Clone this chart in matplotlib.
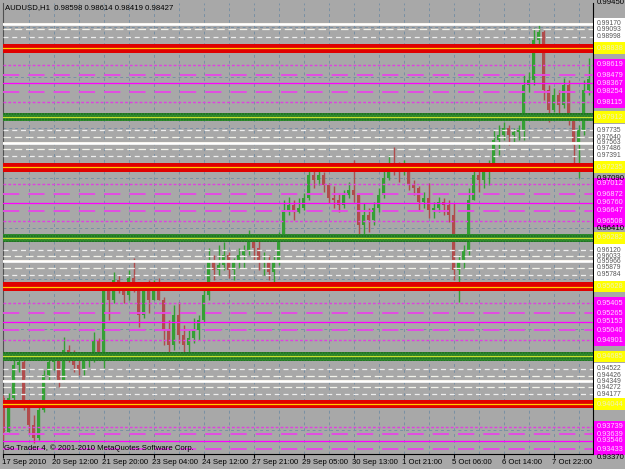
import matplotlib
matplotlib.use("Agg")
import matplotlib.pyplot as plt
import matplotlib.transforms as mtransforms
from matplotlib.patches import Rectangle

# ---------------- data ----------------
title = "AUDUSD,H1  0.98598 0.98614 0.98419 0.98427"
footer = "Go Trader 4, \u00a9 2001-2010 MetaQuotes Software Corp."

time_labels = ["17 Sep 2010", "20 Sep 12:00", "21 Sep 20:00", "23 Sep 04:00",
               "24 Sep 12:00", "27 Sep 21:00", "29 Sep 05:00", "30 Sep 13:00",
               "1 Oct 21:00", "5 Oct 06:00", "6 Oct 14:00", "7 Oct 22:00"]

first_open = 0.9413
closes = [0.9367, 0.9413, 0.9457, 0.9461, 0.9403, 0.9376, 0.9359, 0.9396, 0.9444, 0.9461,
          0.9464, 0.9437, 0.9477, 0.9471, 0.9457, 0.9450, 0.9464, 0.9466, 0.9491, 0.9471,
          0.9558, 0.9545, 0.9572, 0.9561, 0.9551, 0.9574, 0.9565, 0.9524, 0.9558, 0.9545,
          0.9565, 0.9545, 0.9504, 0.9484, 0.9524, 0.9497, 0.9484, 0.9493, 0.9504, 0.9518,
          0.9551, 0.9599, 0.9585, 0.9592, 0.9605, 0.9585, 0.9596, 0.9605, 0.9612, 0.9628,
          0.9615, 0.9596, 0.9599, 0.9582, 0.9596, 0.9626, 0.9666, 0.9673, 0.9663, 0.9669,
          0.9682, 0.9713, 0.9706, 0.9713, 0.9700, 0.9682, 0.9679, 0.9673, 0.9686, 0.9693,
          0.9686, 0.9646, 0.9659, 0.9652, 0.9669, 0.9686, 0.9709, 0.9727, 0.9723, 0.9717,
          0.9727, 0.9700, 0.9696, 0.9677, 0.9682, 0.9666, 0.9669, 0.9677, 0.9673, 0.9659,
          0.9585, 0.9596, 0.9612, 0.9679, 0.9713, 0.9706, 0.9717, 0.9720, 0.9760, 0.9767,
          0.9777, 0.9767, 0.9771, 0.9774, 0.9834, 0.9841, 0.9895, 0.9906, 0.9828, 0.9801,
          0.9821, 0.9808, 0.9834, 0.9790, 0.9754, 0.9774, 0.9828, 0.98427]
highs = [0.9417, 0.9419, 0.9464, 0.9471, 0.9466, 0.9410, 0.9390, 0.9403, 0.9450, 0.9471,
         0.9475, 0.9466, 0.9495, 0.9484, 0.9477, 0.9464, 0.9471, 0.9475, 0.9502, 0.9493,
         0.9568, 0.9561, 0.9582, 0.9578, 0.9568, 0.9585, 0.9601, 0.9568, 0.9565, 0.9572,
         0.9572, 0.9574, 0.9549, 0.9518, 0.9538, 0.9542, 0.9511, 0.9504, 0.9520, 0.9524,
         0.9565, 0.9615, 0.9605, 0.9619, 0.9623, 0.9609, 0.9601, 0.9615, 0.9619, 0.9639,
         0.9632, 0.9626, 0.9609, 0.9605, 0.9605, 0.9636, 0.9679, 0.9683, 0.9679, 0.9682,
         0.9689, 0.9729, 0.9723, 0.9723, 0.9717, 0.9702, 0.9698, 0.9689, 0.9693, 0.9704,
         0.9733, 0.9686, 0.9675, 0.9669, 0.9677, 0.9696, 0.9720, 0.9740, 0.9751, 0.9731,
         0.9733, 0.9727, 0.9706, 0.9698, 0.9690, 0.9702, 0.9677, 0.9683, 0.9682, 0.9679,
         0.9675, 0.9605, 0.9619, 0.9696, 0.9723, 0.9720, 0.9723, 0.9733, 0.9774, 0.9781,
         0.9785, 0.9781, 0.9777, 0.9781, 0.9848, 0.9852, 0.9911, 0.9917, 0.9909, 0.9834,
         0.9830, 0.9828, 0.9844, 0.9841, 0.9794, 0.9781, 0.9841, 0.9871]
lows = [0.9356, 0.9367, 0.9410, 0.9448, 0.9396, 0.9365, 0.9352, 0.9356, 0.9394, 0.9437,
        0.9450, 0.9427, 0.9434, 0.9461, 0.9448, 0.9444, 0.9444, 0.9454, 0.9461, 0.9464,
        0.9453, 0.9518, 0.9541, 0.9554, 0.9541, 0.9545, 0.9555, 0.9508, 0.9520, 0.9527,
        0.9545, 0.9545, 0.9484, 0.9473, 0.9477, 0.9487, 0.9471, 0.9466, 0.9487, 0.9491,
        0.9515, 0.9545, 0.9572, 0.9578, 0.9585, 0.9574, 0.9572, 0.9588, 0.9588, 0.9605,
        0.9596, 0.9585, 0.9578, 0.9572, 0.9559, 0.9592, 0.9626, 0.9659, 0.9652, 0.9662,
        0.9666, 0.9679, 0.9696, 0.9700, 0.9690, 0.9675, 0.9669, 0.9663, 0.9669, 0.9682,
        0.9677, 0.9626, 0.9632, 0.9636, 0.9646, 0.9663, 0.9682, 0.9706, 0.9713, 0.9704,
        0.9713, 0.9693, 0.9686, 0.9666, 0.9669, 0.9655, 0.9655, 0.9663, 0.9659, 0.9650,
        0.9572, 0.9542, 0.9588, 0.9605, 0.9679, 0.9690, 0.9696, 0.9700, 0.9720, 0.9740,
        0.9760, 0.9754, 0.9758, 0.9760, 0.9760, 0.9825, 0.9834, 0.9882, 0.9814, 0.9785,
        0.9798, 0.9794, 0.9803, 0.9781, 0.9727, 0.9709, 0.9767, 0.9821]

price_top = 0.99450
price_bottom = 0.93370
axis_labels = [0.99450, 0.97090, 0.96410, 0.93370]
grid_prices = [0.99130, 0.98450, 0.97770, 0.97090, 0.96410, 0.95730, 0.95050, 0.94370, 0.93690]

red_bands = [0.98838, 0.97235, 0.95628, 0.94044]
green_bands = [0.97912, 0.96282, 0.94685]

white_solid = [0.99170, 0.97563, 0.95966, 0.94349]
white_inner = [0.99093, 0.97640, 0.97486, 0.96033, 0.95879, 0.94426, 0.94272]
white_outer = [0.98998, 0.97735, 0.97391, 0.96120, 0.95784, 0.94522, 0.94177]

mag_solid = [0.98367, 0.96760, 0.95153, 0.93546]
mag_inner = [0.98479, 0.98254, 0.96872, 0.96647, 0.95265, 0.95040, 0.93639, 0.93433]
mag_outer = [0.98619, 0.98115, 0.97012, 0.96508, 0.95405, 0.94901, 0.93739]

# ---------------- style ----------------
BG = "#a8a8a8"
UP = "#34a034"
DOWN = "#b04c4c"
FONT = ["Liberation Sans", "DejaVu Sans"]
W, H = 625, 469

fig = plt.figure(figsize=(W / 100, H / 100), dpi=100, facecolor=BG)
ax = fig.add_axes([3 / W, (H - 454) / H, 590 / W, 451 / H], facecolor=BG)
n = len(closes)
ax.set_xlim(-0.1, 117.9)
ax.set_ylim(price_bottom, price_top)

# grid
grid_col = "#7890a4"
for k in range(0, n, 5):
    ax.axvline(k, color=grid_col, lw=0.7, ls=(0, (3, 3)), zorder=1)
for gp in grid_prices:
    ax.axhline(gp, color=grid_col, lw=0.7, ls=(0, (3, 3)), zorder=1)

# candles
opens = [first_open] + closes[:-1]
for i in range(n):
    o, h, l, c = opens[i], highs[i], lows[i], closes[i]
    col = UP if c >= o else DOWN
    ax.vlines(i, l, h, color=col, lw=1.0, zorder=3)
    lo, hi = min(o, c), max(o, c)
    if hi - lo < 0.00004:
        hi = lo + 0.00004
    ax.add_patch(Rectangle((i - 0.3, lo), 0.6, hi - lo, facecolor=col,
                           edgecolor="none", zorder=3))

# level lines
half = 0.00058
for p in red_bands:
    ax.axhspan(p - half, p + half, facecolor="#e00000", edgecolor="none", zorder=5)
    ax.axhline(p, color="#ffcc00", lw=0.9, zorder=6)
for p in green_bands:
    ax.axhspan(p - half, p + half, facecolor="#2f8f2f", edgecolor="#1d651d",
               hatch="......", lw=0, zorder=5)
    ax.axhline(p, color="#c8e030", lw=0.9, zorder=6)
for p in white_solid:
    ax.axhline(p + 0.00014, color="#d8c8a8", lw=0.8, zorder=5)
    ax.axhline(p, color="#ffffff", lw=1.9, zorder=5)
for p in white_inner:
    ax.axhline(p, color="#f2f2ea", lw=0.9, ls=(0, (6, 3)), zorder=5)
for p in white_outer:
    ax.axhline(p, color="#eeeeee", lw=0.9, ls=(0, (4, 3)), zorder=5)
for p in mag_solid:
    ax.axhline(p, color="#ff00ff", lw=0.9, zorder=5)
for p in mag_inner:
    ax.axhline(p, color="#e845e8", lw=1.3, ls=(0, (9, 5)), zorder=5)
for p in mag_outer:
    ax.axhline(p, color="#e040e0", lw=1.0, ls=(0, (2, 1.5)), zorder=5)

# spines / ticks
ax.spines["top"].set_visible(False)
ax.spines["left"].set_color("#505050")
ax.spines["right"].set_color("black")
ax.spines["bottom"].set_color("black")
ax.set_yticks([])
tick_pos = list(range(0, n, 10))
ax.set_xticks(tick_pos)
ax.tick_params(axis="x", length=3, width=0.8, color="black", labelbottom=False)

# time labels
tx = mtransforms.blended_transform_factory(ax.transData, ax.transAxes)
for pos, lab in zip(tick_pos, time_labels):
    ax.text(pos - 0.3, -0.012, lab, transform=tx, ha="left", va="top",
            fontsize=5.6, family=FONT, color="black", clip_on=False)

# right-hand price labels
ty = mtransforms.blended_transform_factory(fig.transFigure, ax.transData)
bh = 0.00080


def label(p, face, tcol, fs=5.3, va="center"):
    if face is not None:
        box = Rectangle((594 / W, p - bh), 31 / W, 2 * bh, transform=ty,
                        facecolor=face, edgecolor="none", clip_on=False, zorder=10)
        ax.add_patch(box)
    ax.text(597 / W, p, f"{p:.5f}", transform=ty, ha="left", va=va,
            fontsize=fs, family=FONT, color=tcol, clip_on=False, zorder=11)


for p in axis_labels[:-1]:
    label(p, None, "black", 5.6)
label(axis_labels[-1], None, "black", 5.6, va="top")
for p in white_solid + white_inner + white_outer:
    label(p, "#ffffff", "#555555", 4.9)
for p in mag_solid + mag_inner + mag_outer:
    label(p, "#ff00ff", "#ffd8ff", 5.3)
for p in red_bands + green_bands:
    label(p, "#ffff00", "#f0f0c0", 5.3)

# texts
fig.text(5 / W, 1 - 8 / H, title, ha="left", va="center", fontsize=5.6,
         family=FONT, color="black")
fig.text(4 / W, 1 - 448 / H, footer, ha="left", va="center", fontsize=5.6,
         family=FONT, color="black", zorder=20)

fig.savefig("out.png", dpi=100, facecolor=BG)
